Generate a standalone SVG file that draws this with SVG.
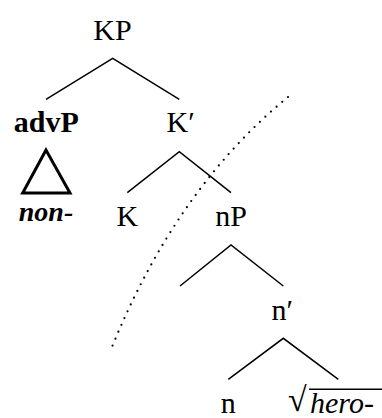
<svg xmlns="http://www.w3.org/2000/svg" width="382" height="418" viewBox="0 0 382 418">
<rect width="382" height="418" fill="#fff"/>
<g id="connectors" stroke="#000" stroke-width="1.5" fill="none">
<path d="M46,99.3 L112.7,58.3 L179.3,99.3"/>
<path d="M127.3,192.7 L179.3,151.7 L231,192.7"/>
<path d="M180,286 L231,245 L283.3,286"/>
<path d="M228.3,379.3 L283.3,338.3 L338.3,379.3"/>
<path d="M288,97 Q175,189.5 110,352" stroke-width="2.2" stroke-linecap="round" stroke-dasharray="0 7.5"/>
</g>
<g id="KP"><text x="93.3" y="39.5" font-family="Liberation Serif" font-size="30">KP</text></g>
<g id="advP"><text x="13.8" y="132" font-family="Liberation Serif" font-size="30" font-weight="bold">advP</text>
<polygon points="46,150 22.7,193 70,193" fill="none" stroke="#000" stroke-width="3"/>
<text x="18.8" y="221" font-family="Liberation Serif" font-size="28" font-weight="bold" font-style="italic">non-</text></g>
<g id="Kbar"><text x="166.5" y="132" font-family="Liberation Serif" font-size="30">K′</text></g>
<g id="K"><text x="116.5" y="226" font-family="Liberation Serif" font-size="30">K</text></g>
<g id="nP"><text x="215.2" y="226" font-family="Liberation Serif" font-size="30">nP</text></g>
<g id="nbar"><text x="271.5" y="320" font-family="Liberation Serif" font-size="30">n′</text></g>
<g id="n"><text x="220.8" y="413" font-family="Liberation Serif" font-size="30">n</text></g>
<g id="root"><text x="288" y="411" font-family="Liberation Serif" font-size="34">√</text>
<line x1="309" y1="389.3" x2="382" y2="389.3" stroke="#000" stroke-width="1.5"/>
<text x="310" y="413" font-family="Liberation Serif" font-size="30" font-style="italic">hero-</text></g>
</svg>
